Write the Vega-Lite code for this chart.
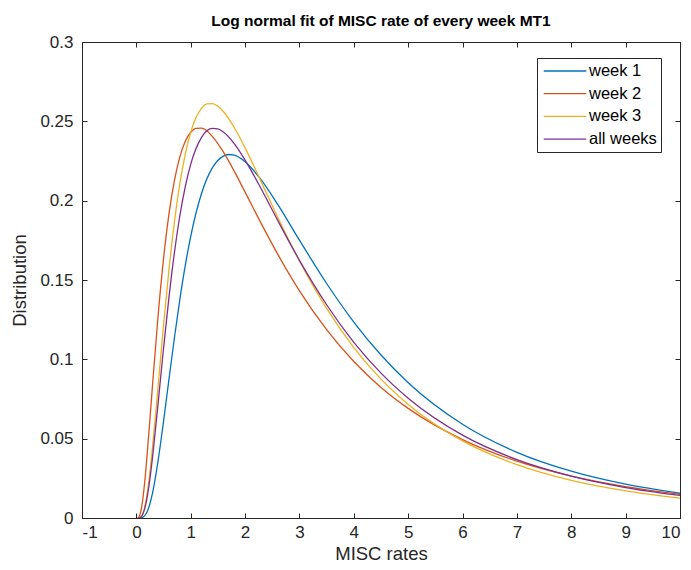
{
  "$schema": "https://vega.github.io/schema/vega-lite/v6.json",
  "width": 598,
  "height": 476,
  "autosize": {"type": "none"},
  "padding": {"left": 82, "top": 42, "right": 11, "bottom": 52},
  "background": "white",
  "config": {
    "font": "Liberation Sans",
    "view": {"stroke": "#262626", "strokeWidth": 1},
    "axis": {"grid": false, "domain": false, "tickColor": "#262626", "labelColor": "#262626", "titleColor": "#262626", "labelFont": "Liberation Sans", "titleFont": "Liberation Sans", "labelFontSize": 17, "titleFontSize": 18.5, "titleFontWeight": "normal", "tickSize": -5}
  },
  "title": {"text": "Log normal fit of MISC rate of every week MT1", "fontSize": 15.5, "fontWeight": "bold", "color": "#000000", "anchor": "middle", "offset": 4, "font": "Liberation Sans"},
  "data": {"values": [
    {"series": "week 1", "x": 0.05, "y": 0},
    {"series": "week 1", "x": 0.1, "y": 0.0002},
    {"series": "week 1", "x": 0.15, "y": 0.0013},
    {"series": "week 1", "x": 0.2, "y": 0.0041},
    {"series": "week 1", "x": 0.25, "y": 0.0091},
    {"series": "week 1", "x": 0.3, "y": 0.0162},
    {"series": "week 1", "x": 0.4, "y": 0.0362},
    {"series": "week 1", "x": 0.5, "y": 0.0609},
    {"series": "week 1", "x": 0.6, "y": 0.0875},
    {"series": "week 1", "x": 0.7, "y": 0.1136},
    {"series": "week 1", "x": 0.8, "y": 0.1378},
    {"series": "week 1", "x": 0.9, "y": 0.1592},
    {"series": "week 1", "x": 1.0, "y": 0.1775},
    {"series": "week 1", "x": 1.2, "y": 0.2047},
    {"series": "week 1", "x": 1.4, "y": 0.2208},
    {"series": "week 1", "x": 1.6, "y": 0.2281},
    {"series": "week 1", "x": 1.7, "y": 0.2291},
    {"series": "week 1", "x": 1.8, "y": 0.2287},
    {"series": "week 1", "x": 2.0, "y": 0.2246},
    {"series": "week 1", "x": 2.3, "y": 0.2129},
    {"series": "week 1", "x": 2.6, "y": 0.1976},
    {"series": "week 1", "x": 3.0, "y": 0.1751},
    {"series": "week 1", "x": 3.5, "y": 0.1478},
    {"series": "week 1", "x": 4.0, "y": 0.1235},
    {"series": "week 1", "x": 4.5, "y": 0.1027},
    {"series": "week 1", "x": 5.0, "y": 0.0853},
    {"series": "week 1", "x": 6.0, "y": 0.0591},
    {"series": "week 1", "x": 7.0, "y": 0.0414},
    {"series": "week 1", "x": 8.0, "y": 0.0295},
    {"series": "week 1", "x": 9.0, "y": 0.0213},
    {"series": "week 1", "x": 10.0, "y": 0.0156},

    {"series": "week 2", "x": 0.02, "y": 0},
    {"series": "week 2", "x": 0.05, "y": 0.0008},
    {"series": "week 2", "x": 0.1, "y": 0.0074},
    {"series": "week 2", "x": 0.15, "y": 0.0214},
    {"series": "week 2", "x": 0.2, "y": 0.0407},
    {"series": "week 2", "x": 0.25, "y": 0.0625},
    {"series": "week 2", "x": 0.3, "y": 0.0850},
    {"series": "week 2", "x": 0.4, "y": 0.1276},
    {"series": "week 2", "x": 0.5, "y": 0.1635},
    {"series": "week 2", "x": 0.6, "y": 0.1917},
    {"series": "week 2", "x": 0.7, "y": 0.2127},
    {"series": "week 2", "x": 0.8, "y": 0.2276},
    {"series": "week 2", "x": 0.9, "y": 0.2374},
    {"series": "week 2", "x": 1.0, "y": 0.2431},
    {"series": "week 2", "x": 1.1, "y": 0.2456},
    {"series": "week 2", "x": 1.2, "y": 0.2457},
    {"series": "week 2", "x": 1.4, "y": 0.2404},
    {"series": "week 2", "x": 1.6, "y": 0.2307},
    {"series": "week 2", "x": 1.8, "y": 0.2186},
    {"series": "week 2", "x": 2.0, "y": 0.2054},
    {"series": "week 2", "x": 2.3, "y": 0.1854},
    {"series": "week 2", "x": 2.6, "y": 0.1663},
    {"series": "week 2", "x": 3.0, "y": 0.1432},
    {"series": "week 2", "x": 3.5, "y": 0.1187},
    {"series": "week 2", "x": 4.0, "y": 0.0986},
    {"series": "week 2", "x": 4.5, "y": 0.0823},
    {"series": "week 2", "x": 5.0, "y": 0.0691},
    {"series": "week 2", "x": 6.0, "y": 0.0494},
    {"series": "week 2", "x": 7.0, "y": 0.0358},
    {"series": "week 2", "x": 8.0, "y": 0.0264},
    {"series": "week 2", "x": 9.0, "y": 0.0198},
    {"series": "week 2", "x": 10.0, "y": 0.0149},

    {"series": "week 3", "x": 0.05, "y": 0.0001},
    {"series": "week 3", "x": 0.1, "y": 0.0014},
    {"series": "week 3", "x": 0.15, "y": 0.0064},
    {"series": "week 3", "x": 0.2, "y": 0.0158},
    {"series": "week 3", "x": 0.25, "y": 0.0292},
    {"series": "week 3", "x": 0.3, "y": 0.0456},
    {"series": "week 3", "x": 0.4, "y": 0.0832},
    {"series": "week 3", "x": 0.5, "y": 0.1216},
    {"series": "week 3", "x": 0.6, "y": 0.1567},
    {"series": "week 3", "x": 0.7, "y": 0.1866},
    {"series": "week 3", "x": 0.8, "y": 0.2108},
    {"series": "week 3", "x": 0.9, "y": 0.2294},
    {"series": "week 3", "x": 1.0, "y": 0.2432},
    {"series": "week 3", "x": 1.2, "y": 0.2583},
    {"series": "week 3", "x": 1.3, "y": 0.2610},
    {"series": "week 3", "x": 1.4, "y": 0.2612},
    {"series": "week 3", "x": 1.5, "y": 0.2595},
    {"series": "week 3", "x": 1.6, "y": 0.2562},
    {"series": "week 3", "x": 1.8, "y": 0.2461},
    {"series": "week 3", "x": 2.0, "y": 0.2333},
    {"series": "week 3", "x": 2.3, "y": 0.2117},
    {"series": "week 3", "x": 2.6, "y": 0.1896},
    {"series": "week 3", "x": 3.0, "y": 0.1620},
    {"series": "week 3", "x": 3.5, "y": 0.1321},
    {"series": "week 3", "x": 4.0, "y": 0.1074},
    {"series": "week 3", "x": 4.5, "y": 0.0875},
    {"series": "week 3", "x": 5.0, "y": 0.0716},
    {"series": "week 3", "x": 6.0, "y": 0.0486},
    {"series": "week 3", "x": 7.0, "y": 0.0336},
    {"series": "week 3", "x": 8.0, "y": 0.0237},
    {"series": "week 3", "x": 9.0, "y": 0.0171},
    {"series": "week 3", "x": 10.0, "y": 0.0125},

    {"series": "all weeks", "x": 0.05, "y": 0},
    {"series": "all weeks", "x": 0.1, "y": 0.0012},
    {"series": "all weeks", "x": 0.15, "y": 0.0054},
    {"series": "all weeks", "x": 0.2, "y": 0.0133},
    {"series": "all weeks", "x": 0.25, "y": 0.0249},
    {"series": "all weeks", "x": 0.3, "y": 0.0392},
    {"series": "all weeks", "x": 0.4, "y": 0.0724},
    {"series": "all weeks", "x": 0.5, "y": 0.1070},
    {"series": "all weeks", "x": 0.6, "y": 0.1392},
    {"series": "all weeks", "x": 0.7, "y": 0.1672},
    {"series": "all weeks", "x": 0.8, "y": 0.1905},
    {"series": "all weeks", "x": 0.9, "y": 0.2089},
    {"series": "all weeks", "x": 1.0, "y": 0.2230},
    {"series": "all weeks", "x": 1.2, "y": 0.2399},
    {"series": "all weeks", "x": 1.4, "y": 0.2455},
    {"series": "all weeks", "x": 1.5, "y": 0.2452},
    {"series": "all weeks", "x": 1.6, "y": 0.2433},
    {"series": "all weeks", "x": 1.8, "y": 0.2360},
    {"series": "all weeks", "x": 2.0, "y": 0.2256},
    {"series": "all weeks", "x": 2.3, "y": 0.2072},
    {"series": "all weeks", "x": 2.6, "y": 0.1876},
    {"series": "all weeks", "x": 3.0, "y": 0.1624},
    {"series": "all weeks", "x": 3.5, "y": 0.1344},
    {"series": "all weeks", "x": 4.0, "y": 0.1107},
    {"series": "all weeks", "x": 4.5, "y": 0.0913},
    {"series": "all weeks", "x": 5.0, "y": 0.0755},
    {"series": "all weeks", "x": 6.0, "y": 0.0522},
    {"series": "all weeks", "x": 7.0, "y": 0.0368},
    {"series": "all weeks", "x": 8.0, "y": 0.0264},
    {"series": "all weeks", "x": 9.0, "y": 0.0192},
    {"series": "all weeks", "x": 10.0, "y": 0.0142}
  ]},
  "layer": [
    {
      "mark": {"type": "line", "interpolate": "monotone", "strokeWidth": 1.3, "clip": true},
      "encoding": {
        "x": {"field": "x", "type": "quantitative", "scale": {"domain": [-1, 10], "nice": false, "zero": false},
              "axis": {"orient": "bottom", "title": "MISC rates", "values": [-1,0,1,2,3,4,5,6,7,8,9,10], "labelExpr": "'' + datum.value", "labelPadding": 11, "titlePadding": 4}},
        "y": {"field": "y", "type": "quantitative", "scale": {"domain": [0, 0.3], "nice": false},
              "axis": {"orient": "left", "title": "Distribution", "values": [0,0.05,0.1,0.15,0.2,0.25,0.3], "labelExpr": "'' + datum.value", "labelPadding": 14, "titlePadding": 10}},
        "color": {"field": "series", "type": "nominal",
                  "scale": {"domain": ["week 1", "week 2", "week 3", "all weeks"], "range": ["#0072BD", "#D95319", "#EDB120", "#7E2F8E"]},
                  "legend": {"orient": "none", "legendX": 455, "legendY": 16, "title": null, "symbolType": "M-2.5,0H2.5", "symbolSize": 289, "symbolStrokeWidth": 1.3, "labelFontSize": 16.5, "labelColor": "#000000", "labelFont": "Liberation Sans", "strokeColor": "#262626", "fillColor": "white", "padding": 3.5, "rowPadding": 4.7, "labelOffset": 14.5, "symbolOffset": 15}}
      }
    },
    {
      "mark": {"type": "point", "opacity": 0},
      "encoding": {
        "x": {"field": "x", "type": "quantitative", "axis": {"orient": "top", "labels": false, "title": null, "values": [-1,0,1,2,3,4,5,6,7,8,9,10]}},
        "y": {"field": "y", "type": "quantitative", "axis": {"orient": "right", "labels": false, "title": null, "values": [0,0.05,0.1,0.15,0.2,0.25,0.3]}}
      }
    }
  ],
  "resolve": {"axis": {"x": "independent", "y": "independent"}}
}
